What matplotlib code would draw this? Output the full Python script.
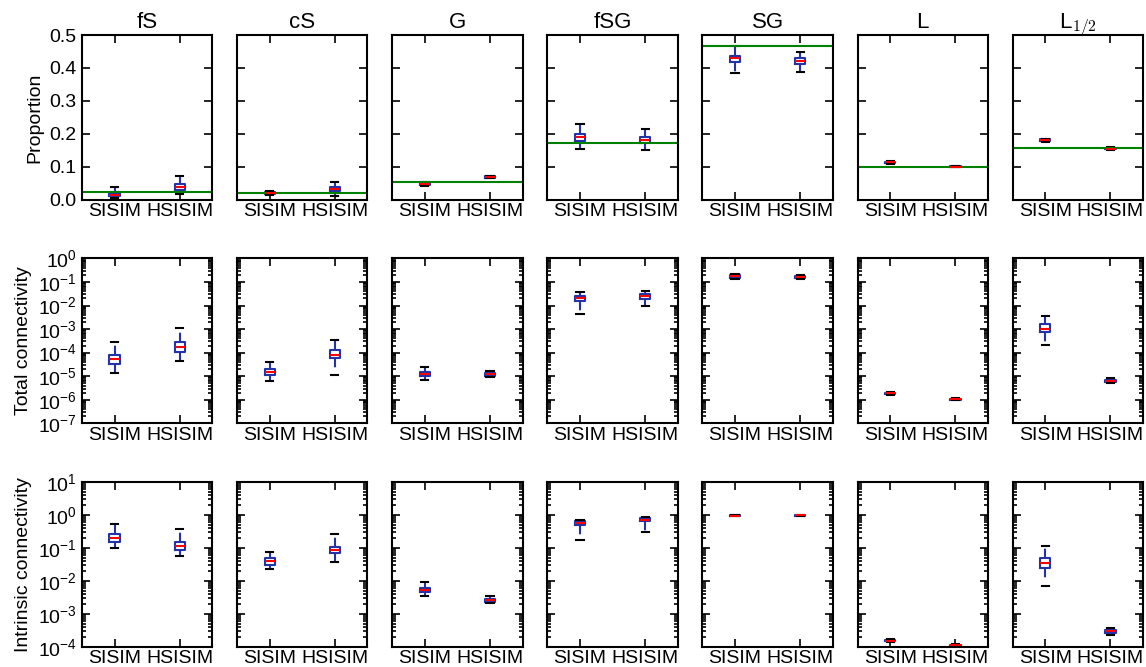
import numpy as np
import matplotlib
matplotlib.use("Agg")
import matplotlib.pyplot as plt
from matplotlib.ticker import LogLocator, NullFormatter

plt.rcParams['font.family'] = ['Liberation Sans', 'DejaVu Sans']
plt.rcParams['mathtext.fontset'] = 'custom'
plt.rcParams['mathtext.rm'] = 'Liberation Sans'
plt.rcParams['mathtext.it'] = 'Liberation Sans:italic'
plt.rcParams['mathtext.bf'] = 'Liberation Sans:bold'
plt.rcParams['lines.scale_dashes'] = False

facies = ['fS', 'cS', 'G', 'fSG', 'SG', 'L', 'L$_{1/2}$']
methods = ['SISIM', 'HSISIM']

# proportion of each facies: (SISIM, HSISIM) per facies
prop_med = [(0.016, 0.038), (0.022, 0.033), (0.048, 0.069), (0.192, 0.183), (0.429, 0.421), (0.114, 0.101), (0.181, 0.155)]
prop_q1 = [(0.011, 0.030), (0.019, 0.027), (0.046, 0.067), (0.180, 0.174), (0.417, 0.413), (0.112, 0.100), (0.178, 0.153)]
prop_q3 = [(0.022, 0.047), (0.025, 0.038), (0.051, 0.071), (0.201, 0.191), (0.437, 0.429), (0.116, 0.102), (0.184, 0.157)]
prop_lo = [(0.007, 0.019), (0.016, 0.013), (0.042, 0.065), (0.154, 0.152), (0.385, 0.387), (0.110, 0.099), (0.176, 0.151)]
prop_hi = [(0.040, 0.073), (0.028, 0.055), (0.055, 0.073), (0.229, 0.216), (0.468, 0.449), (0.118, 0.103), (0.186, 0.159)]
# target proportions from the training image
prop_ref = [0.023, 0.022, 0.054, 0.174, 0.468, 0.101, 0.158]

# total connectivity
tot_med = [(5.2e-5, 1.8e-4), (1.5e-5, 8.3e-5), (1.23e-5, 1.2e-5), (2.0e-2, 2.45e-2), (0.175, 0.17), (1.86e-6, 1.05e-6), (1.05e-3, 6.5e-6)]
tot_q1 = [(3.4e-5, 1.07e-4), (1.1e-5, 6.2e-5), (1.05e-5, 1.05e-5), (1.55e-2, 1.95e-2), (0.155, 0.155), (1.78e-6, 1.0e-6), (7.9e-4, 5.75e-6)]
tot_q3 = [(8.1e-5, 2.8e-4), (2.0e-5, 1.35e-4), (1.45e-5, 1.38e-5), (2.5e-2, 3.1e-2), (0.20, 0.186), (1.95e-6, 1.1e-6), (1.6e-3, 7.2e-6)]
tot_lo = [(1.4e-5, 4.5e-5), (6.0e-6, 1.1e-5), (7.1e-6, 8.9e-6), (4.3e-3, 1.0e-2), (0.135, 0.138), (1.66e-6, 9.5e-7), (2.1e-4, 5.1e-6)]
tot_hi = [(2.8e-4, 1.1e-3), (3.9e-5, 3.4e-4), (2.45e-5, 1.66e-5), (3.9e-2, 4.2e-2), (0.22, 0.20), (2.04e-6, 1.17e-6), (3.7e-3, 8.3e-6)]

# intrinsic connectivity
int_med = [(0.20, 0.112), (0.039, 0.085), (5.4e-3, 2.6e-3), (0.56, 0.72), (0.95, 0.955), (1.5e-4, 1.1e-4), (0.034, 2.9e-4)]
int_q1 = [(0.15, 0.087), (0.031, 0.068), (4.7e-3, 2.3e-3), (0.49, 0.65), (0.94, 0.945), (1.45e-4, 1.06e-4), (0.0245, 2.63e-4)]
int_q3 = [(0.26, 0.148), (0.048, 0.107), (6.2e-3, 2.8e-3), (0.63, 0.81), (0.96, 0.965), (1.56e-4, 1.14e-4), (0.048, 3.16e-4)]
int_lo = [(0.098, 0.056), (0.023, 0.037), (3.5e-3, 2.1e-3), (0.17, 0.30), (0.93, 0.935), (1.38e-4, 1.0e-4), (6.9e-3, 2.34e-4)]
int_hi = [(0.51, 0.36), (0.072, 0.27), (9.5e-3, 3.5e-3), (0.71, 0.85), (0.97, 0.975), (1.66e-4, 1.2e-4), (0.112, 3.63e-4)]

rows = [
    ("Proportion", prop_med, prop_q1, prop_q3, prop_lo, prop_hi),
    ("Total connectivity", tot_med, tot_q1, tot_q3, tot_lo, tot_hi),
    ("Intrinsic connectivity", int_med, int_q1, int_q3, int_lo, int_hi),
]
ylims = [(0, 0.5), (1e-7, 1e0), (1e-4, 1e1)]

fig, axes = plt.subplots(3, 7, figsize=(11.46, 6.67), dpi=100)
fig.subplots_adjust(left=0.0716, right=0.9974, top=0.9475, bottom=0.0304, wspace=0.19, hspace=0.355)

for r, (ylabel, med, q1, q3, lo, hi) in enumerate(rows):
    for c in range(len(facies)):
        ax = axes[r, c]
        stats = []
        for m in range(2):
            stats.append(dict(med=med[c][m], q1=q1[c][m], q3=q3[c][m],
                              whislo=lo[c][m], whishi=hi[c][m], fliers=[]))
        ax.bxp(stats, positions=[1, 2], widths=0.16, capwidths=0.11, showfliers=False,
               boxprops=dict(color='#2233aa', linewidth=1.5),
               medianprops=dict(color='red', linewidth=1.5),
               whiskerprops=dict(color='#2233aa', linewidth=1.5, linestyle=(0, (6.7, 6.7))),
               capprops=dict(color='black', linewidth=1.5))
        if r == 0:
            ax.axhline(prop_ref[c], color='green', linewidth=1.5)
            ax.set_title(facies[c], fontsize=16, pad=5, math_fontfamily='cm')
            ax.set_yticks(np.arange(0, 0.51, 0.1))
        else:
            ax.set_yscale('log')
            ax.yaxis.set_major_locator(LogLocator(base=10, numticks=20))
            ax.yaxis.set_minor_locator(LogLocator(base=10, subs=np.arange(2, 10), numticks=20))
            ax.yaxis.set_minor_formatter(NullFormatter())
        ax.set_ylim(*ylims[r])
        ax.set_xlim(0.5, 2.5)
        ax.set_xticks([1, 2])
        ax.set_xticklabels(methods)
        ax.tick_params(which='both', direction='in', top=True, right=True,
                       labelsize=14, width=1.2)
        ax.tick_params(which='major', length=6)
        ax.tick_params(axis='x', which='major', pad=2.5)
        ax.tick_params(axis='y', which='major', pad=4)
        ax.tick_params(which='minor', length=3)
        ax.tick_params(axis='x', which='minor', top=False, bottom=False)
        for sp in ax.spines.values():
            sp.set_linewidth(1.5)
        if c == 0:
            ax.set_ylabel(ylabel, fontsize=14)
        else:
            ax.tick_params(axis='y', which='both', labelleft=False)

fig.savefig("out.png", dpi=100, facecolor='white')
